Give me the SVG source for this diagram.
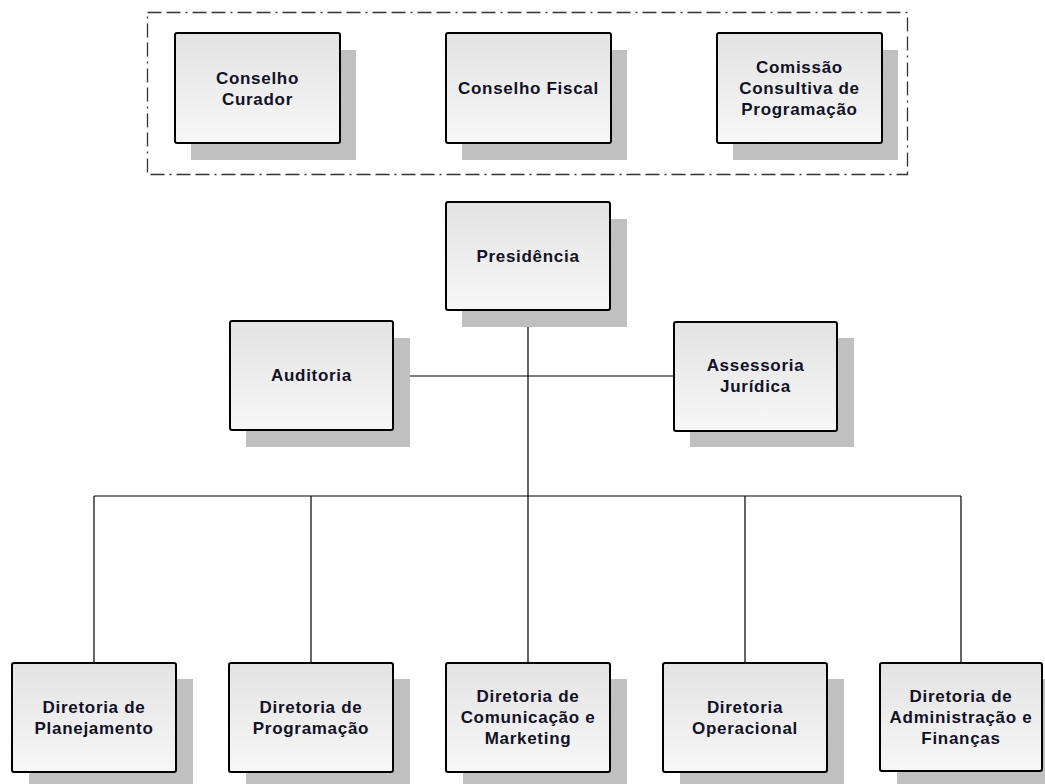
<svg xmlns="http://www.w3.org/2000/svg" width="1045" height="784" viewBox="0 0 1045 784">
<style>
.box{fill:url(#g);stroke:#000;stroke-width:2}
.sh{fill:#c0c0c0}
.t{font-family:"Liberation Sans",Arial,sans-serif;font-weight:bold;font-size:17px;fill:#121226;text-anchor:middle;letter-spacing:0.7px}
.c{stroke:#000;stroke-width:1.2;fill:none}
</style>
<defs>
<linearGradient id="g" x1="0" y1="0" x2="0" y2="1">
<stop offset="0" stop-color="#e3e3e3"/>
<stop offset="1" stop-color="#f7f7f7"/>
</linearGradient>
</defs>
<rect width="1045" height="784" fill="#fff"/>
<rect x="147.5" y="12.5" width="760" height="162" fill="none" stroke="#333" stroke-width="1.3" stroke-dasharray="14 5 14 5 2 5"/>
<g id="connectors">
<path class="c" d="M528 310V496M393 376H674M94 496H961M94 496V663M311 496V663M528 496V663M745 496V663M961 496V663"/>
</g>
<g id="conselho-curador">
<rect class="sh" x="191" y="50" width="165" height="110"/>
<rect class="box" x="175" y="33" width="165" height="110" rx="2"/>
<text class="t" x="257.5" y="83.5">Conselho</text>
<text class="t" x="257.5" y="104.5">Curador</text>
</g>
<g id="conselho-fiscal">
<rect class="sh" x="462" y="50" width="165" height="110"/>
<rect class="box" x="446" y="33" width="165" height="110" rx="2"/>
<text class="t" x="528.5" y="94">Conselho Fiscal</text>
</g>
<g id="comissao">
<rect class="sh" x="733" y="50" width="165" height="110"/>
<rect class="box" x="717" y="33" width="165" height="110" rx="2"/>
<text class="t" x="799.5" y="73">Comissão</text>
<text class="t" x="799.5" y="94">Consultiva de</text>
<text class="t" x="799.5" y="115">Programação</text>
</g>
<g id="presidencia">
<rect class="sh" x="462" y="219" width="165" height="108"/>
<rect class="box" x="446" y="202" width="164" height="108" rx="2"/>
<text class="t" x="528" y="262">Presidência</text>
</g>
<g id="auditoria">
<rect class="sh" x="246" y="338" width="164" height="109"/>
<rect class="box" x="230" y="321" width="163" height="109" rx="2"/>
<text class="t" x="311.5" y="381">Auditoria</text>
</g>
<g id="assessoria">
<rect class="sh" x="690" y="338" width="164" height="109"/>
<rect class="box" x="674" y="322" width="163" height="109" rx="2"/>
<text class="t" x="755.5" y="371">Assessoria</text>
<text class="t" x="755.5" y="392">Jurídica</text>
</g>
<g id="dir-planejamento">
<rect class="sh" x="29" y="679" width="164" height="109"/>
<rect class="box" x="12" y="663" width="164" height="109" rx="2"/>
<text class="t" x="94" y="713">Diretoria de</text>
<text class="t" x="94" y="734">Planejamento</text>
</g>
<g id="dir-programacao">
<rect class="sh" x="246" y="679" width="164" height="109"/>
<rect class="box" x="229" y="663" width="164" height="109" rx="2"/>
<text class="t" x="311" y="713">Diretoria de</text>
<text class="t" x="311" y="734">Programação</text>
</g>
<g id="dir-comunicacao">
<rect class="sh" x="463" y="679" width="164" height="109"/>
<rect class="box" x="446" y="663" width="164" height="109" rx="2"/>
<text class="t" x="528" y="702">Diretoria de</text>
<text class="t" x="528" y="723">Comunicação e</text>
<text class="t" x="528" y="744">Marketing</text>
</g>
<g id="dir-operacional">
<rect class="sh" x="680" y="679" width="164" height="109"/>
<rect class="box" x="663" y="663" width="164" height="109" rx="2"/>
<text class="t" x="745" y="713">Diretoria</text>
<text class="t" x="745" y="734">Operacional</text>
</g>
<g id="dir-administracao">
<rect class="sh" x="897" y="679" width="164" height="109"/>
<rect class="box" x="880" y="663" width="162" height="108" rx="2"/>
<text class="t" x="961" y="702">Diretoria de</text>
<text class="t" x="961" y="723">Administração e</text>
<text class="t" x="961" y="744">Finanças</text>
</g>
</svg>
